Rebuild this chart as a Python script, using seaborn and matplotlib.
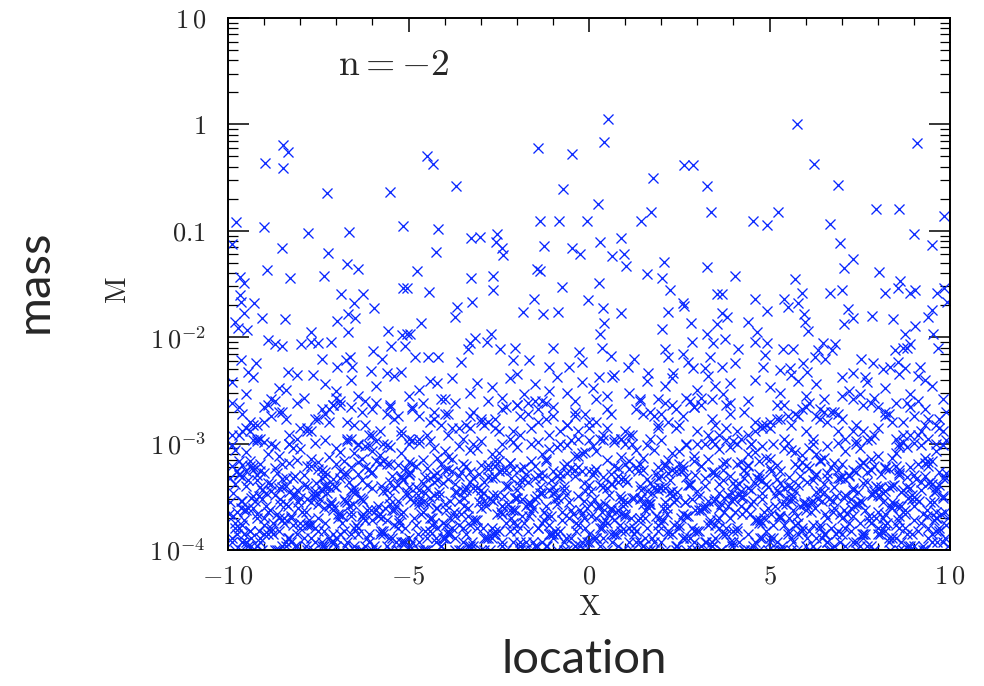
import numpy as np
import pandas as pd
import matplotlib
matplotlib.use("Agg")
import matplotlib.pyplot as plt
import seaborn as sns
from matplotlib.ticker import MultipleLocator, LogLocator, NullFormatter

# ---- sparse high-mass points (x, M) ----
top_pts = [
    (-8.98, 0.43), (-8.48, 0.64), (-8.34, 0.55), (-8.48, 0.39), (-7.26, 0.226), (-5.51, 0.232),
    (-4.49, 0.505), (-4.32, 0.425), (-3.68, 0.264), (-1.41, 0.60), (-0.47, 0.527), (-0.72, 0.247),
    (0.53, 1.12), (0.42, 0.684), (2.63, 0.415), (2.88, 0.415), (1.77, 0.313), (3.27, 0.264),
    (5.76, 1.0), (6.23, 0.425), (6.90, 0.27), (9.09, 0.668),
    (-9.78, 0.121), (-9.0, 0.109), (-7.78, 0.0955), (-6.65, 0.098), (-5.15, 0.111), (-9.89, 0.075),
    (-8.5, 0.069), (-7.23, 0.062), (-6.70, 0.049), (-6.40, 0.044), (-8.92, 0.043), (-8.28, 0.036),
    (-7.34, 0.038), (-9.67, 0.037), (-9.56, 0.032), (-5.15, 0.029), (-5.04, 0.029), (-9.67, 0.025),
    (-9.64, 0.0214), (-9.28, 0.021), (-6.87, 0.0255), (-6.26, 0.0255), (-6.51, 0.021), (-5.96, 0.0188),
    (-9.56, 0.017), (-9.06, 0.0151), (-8.42, 0.0148), (-9.81, 0.0138), (-6.68, 0.0166), (-6.48, 0.0151),
    (-6.98, 0.0141), (-9.72, 0.0122), (-9.47, 0.0117), (-7.70, 0.0112), (-6.68, 0.0112), (-5.57, 0.0114),
    (-5.18, 0.0105), (-5.04, 0.0108),
    (-4.18, 0.104), (-1.36, 0.124), (-0.83, 0.124), (-0.06, 0.124), (-3.27, 0.0855), (-3.02, 0.0875),
    (-2.55, 0.0933), (-2.58, 0.0785), (-2.41, 0.069), (-2.38, 0.059), (-4.24, 0.063), (-1.25, 0.072),
    (-0.47, 0.069), (-0.25, 0.0605), (-4.76, 0.042), (-3.27, 0.036), (-2.66, 0.038), (-1.44, 0.0437),
    (-1.36, 0.042), (-4.43, 0.0266), (-2.66, 0.0275), (-0.75, 0.0297), (-3.24, 0.0214), (-3.66, 0.0192),
    (-3.71, 0.0155), (-1.52, 0.0229), (-1.83, 0.0173), (-1.27, 0.0166), (-0.86, 0.0173), (-0.03, 0.0224),
    (-4.65, 0.0136), (-4.96, 0.0108),
    (0.25, 0.179), (1.72, 0.150), (3.38, 0.150), (1.44, 0.124), (4.54, 0.124), (4.93, 0.113),
    (0.30, 0.0785), (0.89, 0.0855), (0.64, 0.058), (0.97, 0.0605), (1.02, 0.047), (2.08, 0.051),
    (1.61, 0.039), (2.02, 0.036), (3.27, 0.0457), (4.04, 0.038), (0.28, 0.0323), (2.24, 0.0275),
    (3.55, 0.0255), (3.68, 0.0255), (4.60, 0.0229), (2.60, 0.021), (2.63, 0.0196), (0.39, 0.0188),
    (0.89, 0.017), (2.19, 0.0173), (3.68, 0.017), (4.93, 0.0176), (3.82, 0.0155), (0.42, 0.0136),
    (2.83, 0.0136), (3.55, 0.0133), (4.40, 0.0138), (2.02, 0.012), (0.30, 0.0108), (3.27, 0.0108),
    (4.65, 0.0112),
    (5.24, 0.150), (7.95, 0.160), (8.59, 0.160), (9.83, 0.138), (6.68, 0.116), (9.0, 0.0933),
    (6.95, 0.0768), (9.50, 0.0735), (7.31, 0.054), (7.06, 0.0447), (8.03, 0.041), (5.71, 0.035),
    (8.61, 0.034), (8.56, 0.029), (9.03, 0.0275), (8.89, 0.026), (9.83, 0.029), (9.64, 0.026),
    (9.92, 0.0214), (5.90, 0.026), (6.68, 0.026), (7.0, 0.0275), (8.20, 0.026), (5.40, 0.0229),
    (5.51, 0.0192), (5.79, 0.021), (7.17, 0.0185), (5.96, 0.0166), (5.98, 0.0138), (6.07, 0.0114),
    (7.31, 0.0151), (7.06, 0.0133), (7.84, 0.0158), (8.42, 0.0148), (9.50, 0.0182), (9.39, 0.0155),
    (9.03, 0.0128), (8.75, 0.0108), (9.53, 0.0108),
]

# ---- points between 0.004 and 0.01 (x, M) ----
mid_pts = [
    (-8.89, 0.0094), (-8.70, 0.0086), (-8.50, 0.0083), (-7.98, 0.0086), (-7.70, 0.009), (-7.51, 0.0088),
    (-7.15, 0.009), (-5.48, 0.0083), (-5.10, 0.0083), (-5.98, 0.0074), (-5.73, 0.0062), (-9.64, 0.0061),
    (-9.22, 0.0057), (-7.40, 0.0062), (-6.98, 0.0053), (-6.73, 0.0061), (-6.62, 0.0065), (-6.57, 0.0053),
    (-6.04, 0.0048), (-5.60, 0.0046), (-5.21, 0.0047), (-9.45, 0.0047), (-8.34, 0.0047), (-7.65, 0.0044),
    (-2.71, 0.0108), (-3.16, 0.0098), (-3.30, 0.0088), (-2.83, 0.009), (-3.35, 0.0077), (-2.47, 0.0077),
    (-2.05, 0.008), (-1.0, 0.0079), (-0.28, 0.0072), (-4.82, 0.0065), (-4.46, 0.0065), (-4.18, 0.0065),
    (-3.55, 0.0058), (-2.11, 0.0061), (-1.66, 0.0061), (-1.11, 0.0053), (-0.55, 0.0052), (-0.19, 0.0058),
    (2.85, 0.009), (3.43, 0.0088), (3.77, 0.0097), (4.60, 0.009), (4.93, 0.0088), (0.36, 0.008),
    (2.11, 0.0077), (4.13, 0.0077), (0.61, 0.0067), (2.60, 0.007), (2.19, 0.0065), (1.25, 0.0062),
    (2.74, 0.0059), (3.35, 0.0065), (4.88, 0.0068), (1.08, 0.0052), (2.88, 0.0051), (3.21, 0.0051),
    (3.68, 0.0052), (4.04, 0.0057), (4.82, 0.0053), (1.63, 0.0046), (2.33, 0.0046), (0.28, 0.0042),
    (0.64, 0.0042),
    (9.67, 0.008), (5.37, 0.0077), (5.65, 0.0077), (6.48, 0.0088), (6.81, 0.0086), (6.34, 0.0076),
    (6.73, 0.0076), (6.26, 0.0065), (6.54, 0.0063), (8.48, 0.0076), (8.70, 0.0079), (8.89, 0.0086),
    (8.81, 0.008), (7.53, 0.0063), (7.87, 0.0057), (8.56, 0.0058), (9.17, 0.0053), (8.34, 0.0053),
    (8.14, 0.005), (8.75, 0.0051), (5.93, 0.0057), (5.29, 0.0049), (5.57, 0.0051), (6.04, 0.0047),
    (7.31, 0.0046), (7.65, 0.0042),
]

# ---- dense low-mass bands: x and M (M in units of 1e-4) ----
x_a = [-9.9, -9.5, -9.3, -8.8, -8.6, -8.1, -7.9, -7.3, -7.0, -6.6,
       -6.2, -5.9, -5.4, -5.0, -4.7, -4.4, -4.0, -3.8, -3.3, -3.1,
       -2.7, -2.4, -2.0, -1.8, -1.5, -1.1, -0.9, -0.4, -0.2, 0.1,
       0.5, 0.7, 1.1, 1.4, 1.6, 2.1, 2.3, 2.7, 3.0, 3.3,
       3.7, 3.9, 4.4, 4.6, 5.0, 5.3, 5.6, 6.0, 6.3, 6.5,
       7.0, 7.2, 7.7, 7.9, 8.2, 8.6, 8.9, 9.3, 9.5, 9.8,
       -8.4, -6.4, -4.2, -2.2, -0.6, 1.9, 3.5, 5.8, 7.5, 9.1]
m_a = [38, 29, 42, 26, 33, 44, 27, 36, 31, 40,
       25, 35, 43, 28, 32, 39, 26, 41, 30, 37,
       34, 27, 45, 29, 36, 31, 42, 25, 38, 33,
       28, 44, 30, 26, 39, 35, 41, 27, 32, 43,
       29, 37, 25, 40, 34, 30, 44, 28, 36, 26,
       42, 31, 38, 27, 33, 45, 29, 40, 35, 26,
       32, 28, 37, 41, 30, 26, 35, 39, 29, 43]

x_b = [-9.7, -7.8, -5.6, -3.9, -1.7, 0.2, 2.4, 4.1, 6.3, 8.5,
       -9.2, -7.1, -5.2, -3.2, -1.2, 0.9, 2.8, 4.8, 6.9, 8.9,
       -8.8, -6.7, -4.6, -2.8, -0.8, 1.3, 3.3, 5.2, 7.4, 9.4,
       -8.3, -6.3, -4.1, -2.3, -0.3, 1.8, 3.8, 5.7, 7.8, 9.8,
       -9.9, -7.5, -5.8, -3.5, -1.4, 0.5, 2.6, 4.4, 6.6, 8.2,
       -9.4, -7.3, -4.9, -3.0, -0.6, 1.1, 3.1, 5.0, 7.1, 9.1,
       -8.6, -6.1, -4.4, -2.0, -0.1, 2.1, 4.2, 5.9, 8.0, 9.6,
       -9.0, -6.9, -5.0, -2.6, -1.0, 1.5, 3.5, 5.5, 7.6, 8.7,
       -8.1, -6.5, -4.3, -1.9, 0.4, 2.3, 4.6, 6.1, 7.3, 9.3,
       -9.6, -7.7, -5.4, -3.7, -1.6, 0.7, 2.9, 4.9, 6.8, 8.4,
       -8.9, -6.0, -3.3, -2.5, 0.0, 1.7, 3.9, 5.4, 7.0, 9.0,
       -9.5, -7.2, -5.5, -4.0, -1.3, 1.0, 3.4, 6.0, 7.9, 9.7,
       -8.4, -6.6, -4.7, -2.9, -0.4, 1.9, 3.0, 5.3, 6.4, 8.8]
m_b = [22, 14, 19, 12, 24, 16, 21, 13, 18, 11,
       15, 23, 12, 20, 17, 11, 25, 14, 19, 22,
       18, 11, 24, 16, 13, 21, 12, 23, 15, 17,
       12, 20, 15, 22, 11, 18, 14, 19, 24, 13,
       24, 17, 13, 11, 21, 14, 18, 12, 16, 20,
       13, 19, 22, 17, 15, 12, 23, 16, 11, 25,
       20, 12, 16, 23, 19, 24, 11, 21, 14, 15,
       16, 25, 11, 14, 22, 19, 15, 18, 23, 12,
       11, 15, 20, 18, 12, 23, 16, 24, 13, 21,
       19, 13, 17, 24, 14, 11, 22, 15, 20, 16,
       23, 21, 14, 13, 16, 20, 19, 11, 17, 18,
       14, 16, 23, 19, 25, 13, 17, 22, 12, 14,
       17, 22, 18, 15, 20, 15, 13, 17, 21, 24]

x_c = [-9.9, -7.8, -5.9, -3.8, -1.9, 0.2, 2.0, 4.2, 6.1, 8.0,
       -9.7, -7.6, -5.8, -3.6, -1.8, 0.4, 2.3, 4.3, 6.2, 8.4,
       -9.5, -7.4, -5.6, -3.5, -1.4, 0.5, 2.6, 4.5, 6.5, 8.6,
       -9.3, -7.2, -5.3, -3.3, -1.2, 0.8, 2.7, 4.6, 6.8, 8.7,
       -9.1, -7.0, -5.2, -3.0, -1.1, 1.0, 2.9, 4.8, 6.9, 8.9,
       -8.9, -6.8, -4.9, -2.8, -0.9, 1.2, 3.1, 5.0, 7.1, 9.2,
       -8.7, -6.7, -4.6, -2.7, -0.7, 1.3, 3.4, 5.2, 7.3, 9.3,
       -8.5, -6.5, -4.5, -2.4, -0.5, 1.5, 3.6, 5.5, 7.5, 9.4,
       -8.3, -6.3, -4.3, -2.2, -0.3, 1.6, 3.7, 5.7, 7.7, 9.6,
       -8.1, -6.1, -4.1, -2.1, -0.1, 1.9, 3.9, 5.9, 7.9, 9.9,
       -9.8, -7.5, -6.0, -3.9, -1.6, 0.1, 2.2, 4.0, 6.3, 8.2,
       -9.4, -7.3, -5.5, -3.4, -1.3, 0.7, 2.5, 4.7, 6.6, 8.5,
       -9.0, -6.9, -5.0, -3.1, -1.0, 0.9, 3.0, 4.9, 7.0, 9.0,
       -8.6, -6.6, -4.7, -2.5, -0.6, 1.4, 3.3, 5.4, 7.4, 9.5,
       -8.2, -6.2, -4.2, -2.3, -0.2, 1.8, 3.8, 5.8, 7.8, 9.8,
       -9.6, -8.0, -6.4, -4.4, -2.6, -0.4, 1.1, 3.5, 5.6, 7.6,
       -9.2, -7.7, -5.7, -4.0, -2.0, 0.0, 2.1, 4.4, 6.4, 8.8]
m_c = [9.8, 6.2, 10.5, 7.1, 5.8, 8.6, 10.9, 6.7, 9.1, 7.6,
       6.9, 10.2, 7.8, 9.4, 6.0, 10.7, 8.1, 5.6, 9.9, 7.3,
       8.3, 5.7, 9.6, 6.4, 10.4, 7.0, 6.1, 10.0, 7.4, 9.2,
       10.8, 7.5, 6.3, 8.8, 7.2, 5.9, 9.7, 8.4, 6.6, 10.3,
       5.5, 9.0, 8.2, 10.6, 8.9, 6.5, 7.7, 9.5, 10.1, 6.0,
       7.9, 6.8, 10.9, 5.8, 9.3, 10.0, 6.2, 7.1, 8.5, 9.8,
       9.4, 10.5, 7.0, 8.0, 6.1, 8.7, 10.6, 6.3, 5.7, 7.4,
       6.4, 8.1, 5.9, 9.9, 10.8, 7.3, 8.9, 10.2, 9.0, 6.7,
       10.0, 7.2, 9.1, 6.6, 7.7, 9.6, 5.6, 8.3, 10.7, 8.6,
       7.0, 9.7, 6.5, 10.3, 8.4, 6.0, 9.2, 7.8, 6.2, 10.9,
       8.8, 5.8, 8.5, 7.5, 10.0, 9.4, 7.0, 10.6, 8.0, 5.9,
       6.1, 10.8, 9.3, 6.2, 7.9, 10.4, 8.6, 6.9, 9.5, 8.2,
       10.3, 8.4, 6.7, 9.0, 5.5, 7.5, 9.9, 7.3, 6.5, 10.1,
       7.7, 6.0, 10.2, 8.2, 9.6, 6.4, 7.1, 9.1, 10.5, 6.8,
       9.1, 9.5, 7.4, 5.7, 8.1, 8.8, 10.8, 6.0, 7.2, 9.7,
       6.3, 8.9, 9.8, 10.6, 6.9, 7.6, 5.8, 10.0, 8.7, 6.6,
       10.6, 7.1, 6.8, 8.6, 9.2, 10.9, 6.4, 8.0, 7.0, 9.3]

x_d = [-9.95, -8.0, -6.05, -4.0, -1.95, 0.05, 2.0, 3.95, 6.05, 8.0,
       -9.85, -7.9, -5.85, -3.9, -1.85, 0.15, 2.1, 4.15, 6.15, 8.1,
       -9.75, -7.7, -5.75, -3.7, -1.75, 0.3, 2.25, 4.25, 6.25, 8.3,
       -9.6, -7.55, -5.6, -3.55, -1.6, 0.4, 2.4, 4.35, 6.4, 8.45,
       -9.45, -7.4, -5.45, -3.45, -1.5, 0.55, 2.55, 4.5, 6.5, 8.55,
       -9.3, -7.3, -5.3, -3.3, -1.35, 0.65, 2.65, 4.65, 6.6, 8.65,
       -9.2, -7.15, -5.15, -3.2, -1.2, 0.8, 2.75, 4.8, 6.75, 8.8,
       -9.05, -7.05, -5.05, -3.05, -1.05, 0.95, 2.95, 4.95, 6.95, 8.95,
       -8.95, -6.9, -4.95, -2.9, -0.95, 1.05, 3.05, 5.05, 7.05, 9.05,
       -8.8, -6.8, -4.8, -2.8, -0.8, 1.2, 3.2, 5.15, 7.2, 9.2,
       -8.65, -6.65, -4.7, -2.65, -0.7, 1.35, 3.3, 5.3, 7.3, 9.3,
       -8.55, -6.55, -4.55, -2.5, -0.55, 1.45, 3.45, 5.45, 7.45, 9.45,
       -8.4, -6.4, -4.4, -2.4, -0.4, 1.6, 3.6, 5.55, 7.6, 9.55,
       -8.3, -6.25, -4.3, -2.25, -0.3, 1.7, 3.7, 5.7, 7.7, 9.7,
       -8.15, -6.15, -4.15, -2.15, -0.15, 1.85, 3.85, 5.85, 7.85, 9.8,
       -8.05, -6.0, -4.05, -2.05, 0.0, 1.95, 4.05, 5.95, 7.95, 9.9,
       -9.5, -8.5, -6.3, -5.0, -3.4, -1.3, 0.6, 3.5, 5.2, 7.5,
       -9.1, -7.6, -5.5, -4.6, -2.6, -1.0, 1.5, 2.8, 6.3, 8.6,
       -9.7, -7.0, -6.7, -4.2, -2.0, -0.6, 1.9, 4.4, 5.6, 8.2,
       -8.2, -7.3, -5.2, -3.0, -1.7, 0.9, 2.3, 4.7, 6.9, 9.4]
m_d = [4.8, 3.1, 5.3, 2.7, 4.1, 3.6, 5.0, 2.9, 4.4, 3.3,
       3.4, 5.1, 2.6, 4.6, 3.0, 5.4, 3.8, 4.2, 2.8, 5.2,
       5.5, 2.8, 4.0, 3.5, 5.2, 2.6, 4.5, 3.2, 5.0, 3.9,
       2.9, 4.3, 3.7, 5.4, 2.7, 4.9, 3.0, 5.3, 3.6, 4.1,
       4.5, 3.6, 5.0, 3.1, 4.8, 3.3, 5.5, 2.7, 4.2, 2.6,
       3.2, 5.4, 2.9, 4.4, 3.9, 4.2, 2.8, 4.7, 5.3, 3.5,
       5.1, 2.7, 4.6, 3.8, 2.6, 5.0, 4.1, 3.4, 2.9, 4.9,
       3.7, 4.0, 3.3, 5.2, 4.5, 2.8, 5.1, 3.9, 4.7, 3.0,
       2.6, 4.7, 5.4, 2.9, 3.5, 4.4, 3.2, 5.5, 3.1, 4.6,
       4.2, 3.0, 3.9, 4.9, 5.3, 3.1, 4.8, 2.6, 5.1, 3.7,
       5.3, 4.4, 2.7, 3.3, 4.0, 5.5, 2.9, 4.3, 3.8, 5.0,
       3.0, 3.5, 4.9, 5.5, 2.8, 3.7, 5.4, 3.1, 2.7, 4.4,
       4.7, 5.2, 3.1, 2.6, 5.0, 4.6, 3.4, 4.9, 4.3, 2.8,
       3.5, 2.9, 5.1, 4.0, 3.2, 2.7, 4.5, 3.6, 5.4, 4.1,
       5.0, 4.1, 3.5, 4.8, 4.3, 5.2, 2.6, 5.0, 3.3, 3.2,
       2.8, 3.8, 4.3, 3.1, 5.5, 3.9, 4.0, 2.7, 4.0, 5.3,
       4.0, 4.6, 3.0, 5.1, 3.7, 4.7, 5.2, 3.0, 4.6, 2.9,
       3.9, 3.3, 4.4, 2.8, 4.9, 3.4, 2.7, 4.2, 3.5, 5.1,
       5.2, 3.9, 2.8, 4.5, 3.1, 5.3, 4.8, 3.8, 2.9, 3.6,
       3.3, 5.0, 4.7, 3.7, 2.7, 3.0, 3.6, 5.2, 4.8, 4.3]

x_e = [-9.98, -8.1, -6.2, -4.1, -2.2, -0.1, 1.8, 3.9, 5.9, 7.8,
       -9.9, -7.95, -5.9, -3.95, -2.0, 0.05, 2.05, 4.0, 6.0, 8.05,
       -9.8, -7.85, -5.8, -3.85, -1.9, 0.2, 2.15, 4.1, 6.2, 8.15,
       -9.65, -7.75, -5.7, -3.75, -1.8, 0.3, 2.3, 4.25, 6.3, 8.3,
       -9.55, -7.6, -5.55, -3.6, -1.65, 0.45, 2.4, 4.4, 6.4, 8.4,
       -9.4, -7.5, -5.4, -3.5, -1.55, 0.5, 2.5, 4.55, 6.55, 8.5,
       -9.35, -7.35, -5.35, -3.35, -1.4, 0.6, 2.6, 4.6, 6.65, 8.6,
       -9.2, -7.25, -5.25, -3.25, -1.25, 0.75, 2.7, 4.7, 6.7, 8.75,
       -9.1, -7.1, -5.1, -3.1, -1.15, 0.85, 2.85, 4.85, 6.85, 8.85,
       -9.0, -7.0, -4.95, -3.0, -1.0, 1.0, 3.0, 5.0, 7.0, 9.0,
       -8.9, -6.85, -4.85, -2.85, -0.9, 1.1, 3.1, 5.1, 7.1, 9.1,
       -8.75, -6.75, -4.75, -2.75, -0.75, 1.25, 3.25, 5.25, 7.25, 9.25,
       -8.6, -6.6, -4.6, -2.6, -0.65, 1.4, 3.35, 5.35, 7.4, 9.35,
       -8.5, -6.5, -4.5, -2.55, -0.5, 1.5, 3.5, 5.5, 7.5, 9.5,
       -8.35, -6.35, -4.35, -2.4, -0.35, 1.65, 3.65, 5.65, 7.65, 9.6,
       -8.25, -6.25, -4.25, -2.3, -0.25, 1.75, 3.75, 5.75, 7.75, 9.7,
       -8.15, -6.1, -4.2, -2.1, -0.15, 1.9, 3.8, 5.8, 7.9, 9.85,
       -8.0, -6.0, -4.0, -2.05, 0.0, 2.0, 3.95, 6.05, 8.0, 9.95,
       -9.6, -8.8, -6.9, -5.0, -3.3, -1.3, 0.9, 2.7, 4.8, 7.3,
       -9.3, -8.4, -6.4, -4.4, -2.9, -0.7, 1.3, 3.3, 5.6, 7.6,
       -9.75, -8.6, -7.4, -5.3, -3.7, -1.6, 0.4, 2.9, 5.3, 8.9,
       -9.05, -7.7, -5.6, -4.7, -2.4, -0.4, 1.6, 3.6, 6.1, 8.2,
       -8.45, -7.15, -6.5, -3.9, -1.9, 0.7, 2.2, 4.3, 6.6, 9.4,
       -9.45, -7.8, -5.75, -4.55, -2.7, -1.1, 1.55, 3.4, 5.1, 8.65]
m_e = [2.2, 1.4, 1.9, 1.1, 2.4, 1.6, 1.2, 2.0, 1.5, 1.8,
       1.3, 2.3, 1.0, 1.7, 1.5, 2.1, 1.9, 1.2, 2.4, 1.4,
       1.8, 1.1, 2.2, 1.4, 1.0, 1.3, 2.5, 1.6, 1.1, 2.0,
       1.0, 1.7, 1.5, 2.3, 1.8, 1.1, 1.4, 2.2, 1.3, 1.2,
       2.4, 1.2, 1.3, 1.0, 2.1, 1.9, 1.0, 1.4, 1.7, 2.5,
       1.5, 2.0, 2.4, 1.6, 1.2, 1.0, 1.7, 1.1, 2.2, 1.3,
       1.1, 1.5, 1.2, 2.1, 1.6, 2.4, 1.3, 1.9, 1.0, 1.6,
       2.0, 1.0, 1.8, 1.2, 2.3, 1.4, 2.1, 1.0, 1.6, 2.2,
       1.2, 2.4, 1.6, 1.9, 1.1, 1.7, 1.0, 2.3, 1.4, 1.1,
       1.7, 1.3, 1.1, 2.5, 1.4, 2.2, 1.5, 1.3, 2.0, 1.9,
       2.3, 1.8, 2.0, 1.3, 1.0, 1.2, 2.4, 1.7, 1.1, 1.5,
       1.4, 1.1, 1.4, 1.0, 1.9, 1.6, 1.2, 2.1, 2.5, 1.0,
       1.0, 2.1, 2.3, 1.5, 1.3, 2.0, 1.8, 1.1, 1.2, 2.4,
       1.9, 1.6, 1.0, 2.2, 2.4, 1.1, 1.3, 1.5, 1.8, 1.2,
       1.3, 1.0, 1.7, 1.1, 1.5, 2.5, 1.0, 2.4, 1.4, 2.0,
       2.1, 2.2, 1.2, 1.8, 1.1, 1.3, 2.3, 1.0, 1.9, 1.5,
       1.1, 1.4, 2.5, 1.2, 2.0, 1.5, 1.6, 1.8, 1.0, 1.3,
       1.6, 1.9, 1.3, 2.4, 1.2, 1.8, 1.1, 1.3, 2.3, 1.1,
       1.2, 1.5, 2.2, 1.0, 1.7, 1.2, 2.2, 1.0, 1.3, 2.1,
       2.5, 1.1, 1.4, 2.0, 1.3, 1.0, 1.5, 1.7, 1.0, 1.4,
       1.4, 2.0, 1.1, 1.6, 1.0, 2.3, 1.3, 1.2, 2.1, 1.0,
       1.0, 1.3, 1.9, 1.2, 2.2, 1.1, 1.0, 2.5, 1.5, 1.7,
       1.8, 1.2, 1.0, 1.4, 1.1, 1.9, 1.4, 1.0, 1.2, 1.6,
       1.1, 1.7, 1.5, 1.0, 1.6, 1.4, 2.0, 1.1, 1.0, 1.2]

x_f = [-9.9, -7.6, -5.3, -3.4, -1.1, 0.8, 2.9, 5.1, 7.2, 9.3,
       -9.4, -7.0, -4.8, -2.7, -0.6, 1.6, 3.4, 5.8, 7.7, 9.9,
       -8.7, -6.6, -4.5, -2.1, -0.2, 2.2, 4.3, 6.4, 8.3, -1.5,
       -8.2, -6.1, -3.9, -1.8, 0.3, 2.6, 4.7, 6.8, 8.8, -9.6,
       -9.1, -7.3, -5.6, -3.1, -0.9, 1.2, 3.2, 5.4, 7.4, 9.6,
       -8.5, -6.3, -4.2, -2.4, 0.1, 1.9, 3.8, 6.1, 8.1, -9.8,
       -9.7, -7.9, -5.1, -2.9, -1.3, 0.6, 2.4, 4.9, 6.6, 8.6,
       -8.9, -6.8, -4.6, -3.6, -0.4, 1.4, 3.6, 5.6, 7.9, 9.2,
       -9.3, -7.4, -5.8, -3.3, -1.7, 0.4, 2.7, 4.5, 6.2, 8.4,
       -8.0, -6.5, -4.0, -2.2, -0.1, 2.0, 4.0, 5.9, 7.5, 9.5,
       -9.5, -7.7, -5.5, -3.7, -1.4, 0.9, 3.0, 5.2, 7.0, 8.9,
       -8.6, -6.0, -4.3, -2.6, -0.7, 1.5, 3.5, 5.3, 7.6, 9.7,
       -9.2, -7.1, -4.9, -3.0, -1.0, 1.1, 3.1, 4.8, 6.9, 8.7,
       -8.3, -6.7, -4.4, -2.0, 0.0, 1.7, 3.9, 6.0, 8.0, 9.4,
       -9.8, -7.5, -5.0, -3.2, -1.6, 0.7, 2.5, 4.6, 6.7, 8.5,
       -8.8, -6.2, -4.7, -2.5, -0.3, 1.3, 3.3, 5.5, 7.3, 9.0,
       -9.0, -7.2, -5.4, -3.5, -1.2, 0.5, 2.8, 4.4, 6.5, 8.2,
       -8.4, -6.4, -4.1, -2.8, -0.8, 1.8, 3.7, 5.7, 7.8, 9.8,
       -9.6, -7.8, -5.7, -3.8, -1.9, 0.2, 2.1, 4.1, 6.3, 8.0,
       -8.1, -6.9, -5.2, -2.3, -0.5, 1.0, 3.4, 5.0, 7.1, 9.1,
       -9.35, -7.05, -4.55, -3.35, -1.05, 0.95, 2.35, 4.75, 6.95, 8.75,
       -8.65, -6.45, -5.95, -2.65, -0.05, 1.55, 3.05, 5.35, 7.55, 9.65,
       -9.15, -7.65, -4.25, -1.75, 0.35, 2.45, 4.15, 6.55, 8.35, -5.45,
       -8.25, -6.15, -3.55, -2.95, -1.45, 1.25, 3.65, 5.65, 7.25, 9.25,
       -9.55, -7.35, -5.15, -4.05, -0.95, 0.65, 2.85, 4.95, 6.45, 8.95]
m_f = [1.2, 1.6, 1.0, 1.4, 1.7, 1.1, 1.5, 1.3, 1.8, 1.0,
       1.5, 1.1, 1.7, 1.3, 1.0, 1.6, 1.2, 1.4, 1.1, 1.7,
       1.0, 1.4, 1.3, 1.8, 1.2, 1.5, 1.0, 1.6, 1.3, 1.1,
       1.7, 1.2, 1.5, 1.0, 1.6, 1.3, 1.8, 1.1, 1.4, 1.2,
       1.3, 1.8, 1.1, 1.6, 1.4, 1.0, 1.2, 1.7, 1.0, 1.5,
       1.1, 1.0, 1.6, 1.2, 1.3, 1.7, 1.4, 1.0, 1.5, 1.6,
       1.6, 1.3, 1.2, 1.0, 1.8, 1.4, 1.1, 1.5, 1.2, 1.0,
       1.4, 1.5, 1.0, 1.7, 1.1, 1.2, 1.6, 1.3, 1.0, 1.8,
       1.0, 1.2, 1.4, 1.1, 1.5, 1.8, 1.3, 1.0, 1.7, 1.3,
       1.8, 1.1, 1.3, 1.5, 1.0, 1.2, 1.5, 1.6, 1.1, 1.4,
       1.2, 1.7, 1.0, 1.3, 1.6, 1.5, 1.0, 1.2, 1.4, 1.1,
       1.5, 1.0, 1.8, 1.4, 1.2, 1.1, 1.7, 1.0, 1.3, 1.6,
       1.1, 1.4, 1.2, 1.0, 1.3, 1.6, 1.1, 1.8, 1.5, 1.0,
       1.3, 1.2, 1.5, 1.7, 1.4, 1.0, 1.2, 1.1, 1.6, 1.3,
       1.0, 1.5, 1.3, 1.1, 1.0, 1.4, 1.6, 1.2, 1.0, 1.7,
       1.6, 1.1, 1.0, 1.5, 1.7, 1.2, 1.0, 1.4, 1.2, 1.1,
       1.4, 1.3, 1.7, 1.2, 1.1, 1.8, 1.3, 1.0, 1.4, 1.5,
       1.2, 1.6, 1.1, 1.3, 1.5, 1.0, 1.4, 1.7, 1.1, 1.2,
       1.7, 1.0, 1.4, 1.6, 1.2, 1.3, 1.0, 1.5, 1.0, 1.4,
       1.1, 1.4, 1.2, 1.0, 1.3, 1.5, 1.1, 1.2, 1.6, 1.0,
       1.3, 1.2, 1.5, 1.1, 1.4, 1.0, 1.7, 1.3, 1.2, 1.6,
       1.0, 1.7, 1.1, 1.4, 1.2, 1.3, 1.5, 1.0, 1.4, 1.2,
       1.5, 1.0, 1.3, 1.2, 1.6, 1.1, 1.2, 1.4, 1.0, 1.3,
       1.2, 1.3, 1.0, 1.6, 1.1, 1.4, 1.0, 1.2, 1.5, 1.1,
       1.4, 1.1, 1.2, 1.3, 1.5, 1.2, 1.6, 1.0, 1.3, 1.4]

x_g = [-9.85, -7.45, -5.65, -3.25, -1.35, 0.75, 2.65, 4.85, 6.85, 8.65,
       -9.25, -6.95, -4.75, -2.85, -0.55, 1.45, 3.55, 5.45, 7.65, 9.55,
       -8.75, -6.55, -4.35, -2.35, -0.15, 1.85, 3.95, 6.15, 8.15, 9.95,
       -8.15, -6.05, -3.85, -1.85, 0.25, 2.25, 4.45, 6.35, 8.55, -9.65,
       -9.45, -7.25, -5.25, -3.05, -0.85, 1.15, 3.25, 5.15, 7.15, 9.15,
       -8.45, -6.65, -4.15, -2.45, -0.35, 1.65, 3.75, 5.75, 7.85, 9.75,
       -9.05, -7.75, -5.45, -3.65, -1.55, 0.45, 2.55, 4.55, 6.75, 8.85,
       -8.55, -6.35, -4.65, -2.15, -0.65, 1.35, 3.15, 5.25, 7.35, 9.35,
       -9.75, -7.15, -5.05, -3.45, -1.15, 0.85, 2.95, 4.65, 6.65, 8.45,
       -8.95, -6.85, -4.45, -2.75, -0.25, 2.05, 3.85, 5.85, 7.95, 9.85,
       -9.55, -7.55, -5.85, -3.95, -1.65, 0.15, 2.15, 4.25, 6.05, 8.25,
       -8.35, -6.25, -4.95, -2.55, -0.45, 1.55, 3.45, 5.55, 7.45, 9.45,
       -9.15, -7.35, -5.35, -3.15, -0.95, 1.05, 2.75, 4.95, 7.05, 8.95,
       -8.65, -6.75, -4.05, -2.25, -0.05, 1.75, 3.65, 5.65, 7.75, 9.65,
       -9.95, -7.85, -5.55, -3.55, -1.25, 0.55, 2.45, 4.35, 6.45, 8.35,
       -8.85, -6.45, -4.25, -2.05, 0.05, 1.95, 4.05, 5.95, 8.05, 9.05,
       -9.35, -7.05, -5.75, -3.35, -1.45, 0.95, 2.85, 4.75, 6.95, 8.75,
       -8.25, -6.15, -4.55, -2.65, -0.75, 1.25, 3.35, 5.35, 7.25, 9.25,
       -9.65, -7.65, -5.15, -3.85, -1.75, 0.35, 2.35, 4.15, 6.25, 8.15,
       -8.05, -6.95, -4.85, -2.95, -1.05, 1.65, 3.05, 5.05, 7.55, 9.55,
       -9.2, -7.5, -5.9, -3.7, -1.5, 0.6, 2.3, 4.2, 6.6, 8.4,
       -8.7, -6.3, -4.7, -2.4, -0.2, 1.4, 3.6, 5.6, 7.4, 9.6,
       -9.5, -7.8, -5.2, -3.0, -0.9, 1.0, 3.2, 5.3, 7.1, 9.0,
       -8.4, -6.6, -4.3, -2.1, 0.2, 2.1, 4.0, 6.2, 8.2, 9.8,
       -9.0, -7.2, -5.5, -3.6, -1.3, 0.8, 2.6, 4.8, 6.8, 8.6]
m_g = [2.1, 3.0, 2.5, 1.9, 3.4, 2.3, 2.8, 2.0, 3.2, 2.6,
       2.9, 2.2, 3.3, 2.6, 2.0, 3.1, 1.9, 2.7, 2.4, 3.5,
       1.8, 2.7, 2.0, 3.2, 2.9, 2.1, 3.4, 2.3, 2.8, 2.0,
       3.3, 2.4, 2.9, 2.1, 2.6, 3.5, 2.2, 3.0, 1.9, 2.5,
       2.5, 3.4, 1.9, 2.8, 3.1, 2.0, 2.6, 3.3, 2.2, 2.9,
       2.0, 2.6, 3.2, 2.3, 1.8, 2.9, 3.1, 2.1, 3.4, 2.2,
       3.0, 1.9, 2.4, 3.5, 2.5, 2.7, 2.0, 2.9, 2.3, 3.1,
       2.7, 3.1, 2.2, 2.0, 3.3, 1.9, 2.5, 3.4, 2.6, 2.1,
       2.3, 2.8, 3.5, 2.6, 2.1, 3.2, 2.4, 1.9, 3.0, 2.7,
       3.4, 2.1, 2.7, 3.0, 2.4, 2.5, 3.3, 2.6, 2.0, 2.3,
       1.9, 3.3, 2.1, 2.4, 2.8, 3.0, 2.2, 3.1, 2.7, 1.8,
       2.6, 2.0, 3.0, 3.3, 2.2, 2.4, 2.9, 2.0, 3.5, 2.8,
       3.2, 2.5, 2.6, 1.9, 3.0, 2.8, 2.1, 2.5, 2.4, 3.3,
       2.2, 2.9, 1.8, 2.7, 2.5, 3.4, 2.7, 3.2, 2.1, 2.0,
       2.8, 2.3, 3.1, 2.2, 1.9, 2.2, 3.5, 2.4, 2.9, 2.6,
       2.4, 3.5, 2.5, 3.1, 2.7, 2.0, 2.3, 2.8, 3.2, 3.0,
       3.1, 2.6, 2.0, 2.5, 3.2, 2.6, 3.0, 1.9, 2.2, 2.4,
       2.0, 2.4, 3.4, 2.9, 2.3, 3.1, 1.9, 2.7, 3.0, 2.2,
       2.9, 3.2, 2.3, 2.0, 2.6, 2.3, 2.8, 3.3, 2.5, 3.4,
       2.5, 2.0, 2.8, 3.4, 2.1, 2.7, 2.4, 2.2, 2.8, 1.9,
       2.2, 2.7, 2.4, 2.1, 3.0, 2.5, 3.2, 2.6, 2.0, 2.8,
       3.3, 2.1, 2.9, 2.6, 2.2, 3.0, 2.0, 3.1, 2.7, 2.3,
       2.4, 3.0, 2.2, 3.2, 2.7, 2.1, 2.5, 2.0, 3.3, 2.6,
       2.7, 2.3, 3.3, 2.4, 2.0, 2.8, 3.1, 2.9, 2.2, 3.1,
       2.0, 2.6, 2.7, 2.9, 3.4, 2.4, 2.2, 3.0, 2.5, 2.1]

x_h = [-9.8, -7.7, -5.4, -3.3, -1.2, 0.9, 3.0, 5.0, 7.0, 9.1,
       -9.3, -7.2, -4.9, -2.9, -0.7, 1.3, 3.5, 5.5, 7.6, 9.6,
       -8.8, -6.8, -4.4, -2.5, -0.2, 1.8, 4.0, 6.0, 8.1, -0.9,
       -8.3, -6.3, -3.9, -2.0, 0.3, 2.3, 4.4, 6.5, 8.6, 9.9,
       -9.6, -7.5, -5.7, -3.6, -1.5, 0.6, 2.6, 4.7, 6.7, 8.8,
       -9.0, -6.6, -5.1, -3.0, -1.0, 1.1, 3.2, 5.3, 7.3, 9.4,
       -8.5, -6.1, -4.6, -2.3, -0.4, 1.6, 3.7, 5.8, 7.8, 9.2,
       -9.9, -7.9, -5.9, -3.8, -1.8, 0.1, 2.0, 4.1, 6.2, 8.3,
       -9.2, -7.0, -5.0, -2.7, -0.6, 1.4, 3.4, 5.6, 7.5, 9.5,
       -8.7, -6.5, -4.2, -2.2, -0.1, 2.1, 4.3, 6.3, 8.4, -5.6,
       -8.1, -6.9, -4.8, -3.1, -1.4, 0.8, 2.9, 4.6, 6.9, 8.9,
       -9.4, -7.4, -5.3, -2.4, -0.3, 1.9, 3.9, 5.9, 7.9, 9.7,
       -8.9, -6.2, -4.0, -1.9, 0.5, 2.5, 4.5, 6.6, 8.5, -7.3,
       -9.7, -7.6, -5.5, -3.4, -1.3, 1.0, 3.1, 5.2, 7.2, 9.3,
       -8.4, -6.7, -4.5, -2.6, -0.8, 1.5, 3.6, 5.7, 7.7, 8.7,
       -9.1, -7.1, -5.2, -3.7, -1.6, 0.4, 2.4, 4.8, 6.4, 9.0,
       -8.6, -6.4, -4.3, -2.1, 0.0, 2.2, 4.2, 6.1, 8.0, 9.8,
       -9.5, -7.8, -5.8, -3.2, -1.1, 0.7, 2.7, 4.9, 7.4, 8.2,
       -8.2, -6.0, -4.7, -2.8, -0.5, 1.7, 3.8, 5.4, 7.1, 9.6,
       -9.3, -7.3, -5.0, -3.5, -1.7, 0.2, 2.8, 4.4, 6.8, 8.6]
m_h = [4.2, 6.1, 3.8, 5.4, 6.8, 4.6, 3.6, 5.9, 4.9, 6.4,
       5.7, 3.9, 6.5, 4.4, 3.7, 6.0, 5.1, 4.0, 6.7, 3.6,
       3.6, 5.2, 4.7, 6.9, 5.5, 3.8, 4.3, 6.2, 3.9, 5.0,
       6.6, 4.5, 5.8, 3.7, 4.1, 5.6, 6.3, 3.5, 5.3, 4.8,
       4.9, 6.7, 3.6, 5.0, 6.2, 4.2, 5.7, 4.6, 6.0, 3.9,
       5.3, 3.7, 5.9, 6.3, 3.9, 6.8, 4.0, 5.5, 3.7, 6.1,
       3.9, 5.8, 4.3, 4.0, 5.7, 3.6, 6.6, 4.1, 5.6, 4.4,
       6.2, 4.1, 6.8, 5.5, 4.6, 5.1, 3.8, 6.4, 4.5, 5.8,
       4.5, 6.4, 3.9, 4.8, 6.5, 4.0, 5.4, 3.9, 6.3, 4.2,
       5.9, 3.8, 5.3, 6.6, 3.6, 6.2, 4.7, 5.2, 4.0, 6.5,
       3.7, 5.5, 6.2, 3.8, 5.1, 4.4, 6.9, 4.3, 5.7, 3.8,
       6.8, 4.7, 4.1, 5.7, 6.0, 3.7, 5.0, 6.7, 3.6, 5.4,
       4.3, 6.0, 5.6, 4.5, 3.8, 6.4, 3.7, 4.8, 6.2, 4.1,
       5.1, 3.6, 6.4, 3.9, 5.3, 4.6, 6.1, 3.7, 5.0, 6.6,
       4.0, 5.2, 3.8, 6.1, 4.8, 5.7, 4.2, 6.5, 4.4, 3.7,
       6.4, 4.6, 5.0, 4.2, 6.8, 3.9, 5.5, 4.5, 6.9, 5.1,
       3.8, 6.7, 4.4, 5.8, 4.1, 5.3, 3.6, 5.9, 3.8, 4.7,
       5.5, 4.0, 6.6, 4.7, 3.7, 6.1, 4.9, 4.2, 5.4, 6.0,
       4.7, 5.4, 3.7, 6.3, 5.9, 4.3, 6.7, 3.8, 4.6, 3.9,
       6.0, 3.9, 5.2, 3.6, 4.4, 5.8, 4.1, 6.2, 3.9, 5.6]

x_i = [-9.7, -7.4, -5.0, -2.8, -0.6, 1.7, 3.8, 6.0, 8.2, 9.6,
       -9.0, -6.6, -4.3, -2.1, 0.2, 2.4, 4.5, 6.7, 8.9, -1.4,
       -8.3, -5.9, -3.6, -1.7, 0.9, 3.1, 5.2, 7.4, 9.3, -7.1,
       -9.4, -7.8, -5.5, -3.2, -1.0, 1.2, 3.4, 5.6, 7.8, 9.9,
       -8.7, -6.2, -4.7, -2.4, -0.3, 2.0, 4.1, 6.4, 8.5, -9.9,
       -8.0, -6.9, -3.9, -1.9, 0.5, 2.7, 4.8, 7.0, 9.1, -5.3,
       -9.2, -7.6, -5.2, -3.0, -0.8, 1.4, 3.6, 5.8, 8.0, 9.4,
       -8.5, -6.4, -4.1, -2.6, 0.0, 2.2, 4.3, 6.2, 8.7, -1.2,
       -9.6, -7.2, -4.5, -2.2, 0.6, 1.9, 3.2, 5.4, 7.6, 9.7,
       -8.1, -6.0, -3.4, -1.5, 0.3, 2.9, 5.0, 6.9, 8.3, -9.1,
       -9.3, -7.0, -5.7, -3.8, -0.4, 1.0, 3.9, 5.1, 7.3, 9.2,
       -8.8, -6.7, -4.9, -2.0, -1.1, 2.5, 4.6, 6.5, 8.6, -3.3]
m_i = [12, 21, 10, 25, 15, 11, 23, 13, 18, 10,
       22, 11, 17, 13, 26, 14, 10, 20, 12, 16,
       10, 24, 14, 19, 11, 27, 17, 10, 15, 23,
       16, 13, 22, 10, 18, 12, 26, 15, 11, 20,
       25, 15, 11, 21, 13, 19, 10, 17, 24, 12,
       14, 23, 19, 12, 21, 10, 15, 28, 12, 18,
       11, 17, 13, 16, 10, 25, 12, 18, 22, 11,
       20, 10, 26, 17, 14, 16, 20, 11, 16, 24,
       13, 21, 12, 11, 19, 14, 10, 23, 13, 17,
       24, 12, 15, 25, 11, 22, 14, 13, 19, 11,
       15, 27, 10, 14, 18, 10, 24, 10, 26, 13,
       10, 16, 21, 23, 12, 15, 13, 20, 10, 18]

# ---- axis ticks and labels ----
x_ticks = [-10, -5, 0, 5, 10]
x_tick_labels = [r"$\mathrm{-1\,0}$", r"$\mathrm{-5}$", r"$\mathrm{0}$", r"$\mathrm{5}$",
                 r"$\mathrm{1\,0}$"]
y_ticks = [1e-4, 1e-3, 1e-2, 0.1, 1, 10]
y_tick_labels = [r"$\mathrm{1\,0^{-4}}$", r"$\mathrm{1\,0^{-3}}$", r"$\mathrm{1\,0^{-2}}$",
                 r"$\mathrm{0.1}$", r"$\mathrm{1}$", r"$\mathrm{1\,0}$"]
annotation = r"$\mathrm{n=-2}$"

# ---- build table ----
low_unit = 1e-4
x_low = x_a + x_b + x_c + x_d + x_e + x_f + x_g + x_h + x_i
m_low = m_a + m_b + m_c + m_d + m_e + m_f + m_g + m_h + m_i
xs = [p[0] for p in top_pts] + [p[0] for p in mid_pts] + x_low
ms = [p[1] for p in top_pts] + [p[1] for p in mid_pts] + [v * low_unit for v in m_low]
df = pd.DataFrame({"X": xs, "M": ms})

sns.set_style("ticks")
plt.rcParams["mathtext.fontset"] = "cm"
plt.rcParams["font.family"] = ["DejaVu Serif"]

fig = plt.figure(figsize=(9.84, 6.86), dpi=100)
ax = fig.add_axes([228 / 984, 1 - 550 / 686, 722 / 984, 532 / 686])

blue = "#0a28ff"
sns.scatterplot(data=df, x="X", y="M", marker="x", color=blue, s=52,
                linewidth=0.95, ax=ax, legend=False)
ax.set_yscale("log")
ax.set_xlim(-10, 10)
ax.set_ylim(1e-4, 10)
ax.set_xlabel("")
ax.set_ylabel("")

ax.set_xticks(x_ticks)
ax.set_xticklabels(x_tick_labels)
ax.xaxis.set_minor_locator(MultipleLocator(1))
ax.set_yticks(y_ticks)
ax.set_yticklabels(y_tick_labels)
ax.yaxis.set_minor_locator(LogLocator(base=10, subs=np.arange(2, 10)))
ax.yaxis.set_minor_formatter(NullFormatter())

ax.tick_params(which="both", direction="in", top=True, right=True, color="black")
ax.tick_params(axis="x", which="major", length=10, width=1.1, pad=10, labelsize=19)
ax.tick_params(axis="x", which="minor", length=5, width=0.9)
ax.tick_params(axis="y", which="major", length=15, width=1.1, pad=16, labelsize=19)
ax.tick_params(axis="y", which="minor", length=7, width=0.9)
for sp in ax.spines.values():
    sp.set_color("black")
    sp.set_linewidth(1.4)

ax.text(0.152, 0.912, annotation, transform=ax.transAxes, fontsize=27,
        ha="left", va="center")

fig.text(590 / 984, 1 - 607 / 686, r"$\mathrm{X}$", fontsize=21, ha="center", va="center")
fig.text(118 / 984, 1 - 290 / 686, r"$\mathrm{M}$", fontsize=21, ha="center", va="center",
         rotation=90)
fig.text(35 / 984, 1 - 281 / 686, "mass", fontsize=34, family="Lato", ha="center",
         va="center", rotation=90)
fig.text(584 / 984, 1 - 660 / 686, "location", fontsize=34, family="Lato", ha="center",
         va="center")

fig.savefig("out.png", dpi=100)
